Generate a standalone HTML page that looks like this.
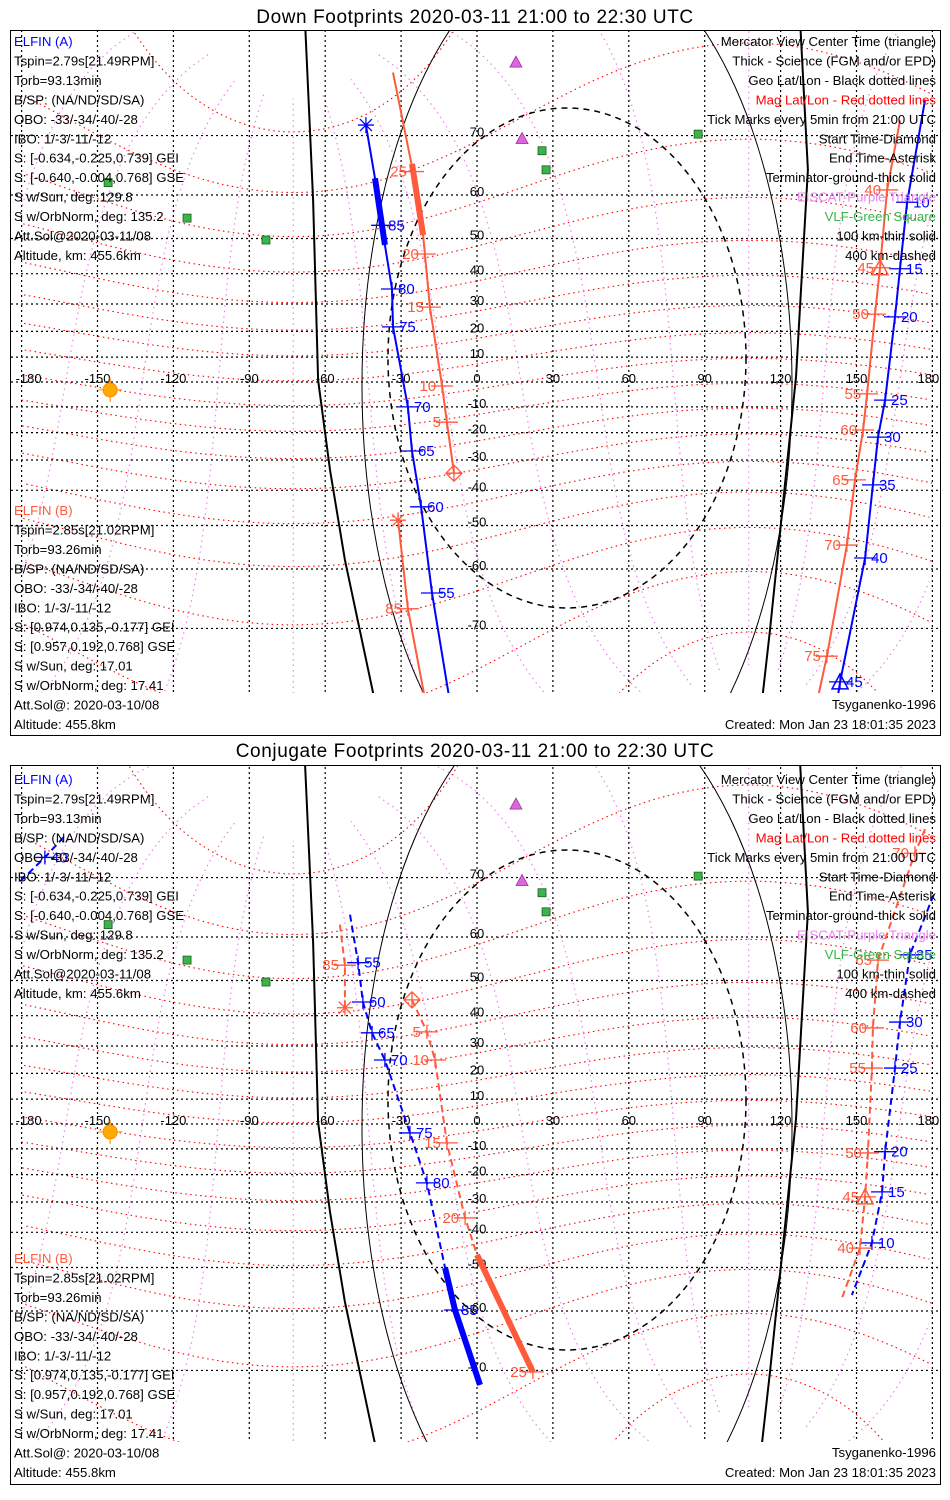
<!DOCTYPE html>
<html><head><meta charset="utf-8">
<style>
html,body{margin:0;padding:0;background:#fff;}
svg{display:block;}
text{font-family:"Liberation Sans",sans-serif;}
</style></head>
<body>
<svg id="chart" width="950" height="1500" viewBox="0 0 950 1500" xmlns="http://www.w3.org/2000/svg">
<defs>
<clipPath id="clip0"><rect x="11" y="31" width="929" height="662"/></clipPath>
<clipPath id="clip1"><rect x="11" y="766" width="929" height="676"/></clipPath>
</defs>
<rect x="0" y="0" width="950" height="1500" fill="#fff"/>
<g id="panels"></g>
</svg>
<script>
// ===== DATA (lon / lat in degrees) =====
const downA_lon = [-43.9,-40.3,-36.4,-33.6,-33.2,-27.3,-25.7,-22.1,-17.8,-10.7];
const downA_lat = [71.4,63.2,48.3,35.1,21.7,-10.0,-26.8,-44.9,-64.5,-78];
const downA_tickLabels = ['85','80','75','70','65','60','55'];
const downA_tickLon = [-37.5,-33.6,-33.2,-27.3,-25.7,-22.1,-17.8];
const downA_tickLat = [53.3,35.1,21.7,-10.0,-26.8,-44.9,-64.5];
const downA_sciLon = [-40.3,-36.4];
const downA_sciLat = [63.2,48.3];
const downA2_lon = [177.1,170.0,167.2,165.2,161.3,158.5,156.5,153.4,143.5,142.3];
const downA2_lat = [74.4,58.5,41.5,25.4,-7.3,-21.7,-38.3,-57.7,-76.2,-78];
const downA2_tickLabels = ['10','15','20','25','30','35','40','45'];
const downA2_tickLon = [170.0,167.2,165.2,161.3,158.5,156.5,153.4,143.5];
const downA2_tickLat = [58.5,41.5,25.4,-7.3,-21.7,-38.3,-57.7,-76.2];
const downB_lon = [-9.1,-11.9,-13.8,-18.6,-20.6,-21.3,-25.3,-33.2];
const downB_lat = [-34.5,-16.0,-1.6,28.9,45.8,50.9,64.4,77.1];
const downB_tickLabels = ['5','10','15','20','25'];
const downB_tickLon = [-11.9,-13.8,-18.6,-20.6,-25.3];
const downB_tickLat = [-16.0,-1.6,28.9,45.8,64.4];
const downB_sciLon = [-25.7,-21.3];
const downB_sciLat = [65.7,50.9];
const downB2_lon = [167.2,162.1,159.3,157.3,154.2,152.6,149.4,146.2,138.3,134.4];
const downB2_lat = [72.0,61.0,41.8,26.4,-4.8,-19.0,-36.7,-54.8,-73.5,-78];
const downB2_tickLabels = ['40','45','50','55','60','65','70','75'];
const downB2_tickLon = [162.1,159.3,157.3,154.2,152.6,149.4,146.2,138.3];
const downB2_tickLat = [61.0,41.8,26.4,-4.8,-19.0,-36.7,-54.8,-73.5];
const downB3_lon = [-19.4,-27.3,-31.2];
const downB3_lat = [-79,-67.1,-48.6];
const downB3_tickLabels = ['85'];
const downB3_tickLon = [-27.3];
const downB3_tickLat = [-67.1];
const conjA_lon = [-50.2,-47.0,-45.1,-41.5,-36.4,-26.5,-19.8,-12.6,-8.7,1.2];
const conjA_lat = [64.2,54.4,44.1,34.5,25.0,-3.6,-23.1,-50.1,-59.8,-71.9];
const conjA_tickLabels = ['55','60','65','70','75','80','85'];
const conjA_tickLon = [-47.0,-45.1,-41.5,-36.4,-26.5,-19.8,-8.7];
const conjA_tickLat = [54.4,44.1,34.5,25.0,-3.6,-23.1,-59.8];
const conjA_sciLon = [-12.6,-8.7,1.2];
const conjA_sciLat = [-50.1,-59.8,-71.9];
const conjA2_lon = [180.5,171.1,167.2,165.2,161.3,160.1,156.1,148.2];
const conjA2_lat = [67.5,56.2,38.0,22.0,-11.1,-26.4,-43.2,-56.6];
const conjA2_tickLabels = ['35','30','25','20','15','10'];
const conjA2_tickLon = [171.1,167.2,165.2,161.3,160.1,156.1];
const conjA2_tickLat = [56.2,38.0,22.0,-11.1,-26.4,-43.2];
const conjA3_lon = [-180.5,-170.8,-163];
const conjA3_lat = [69.5,72.6,75];
const conjA3_tickLabels = ['40'];
const conjA3_tickLon = [-170.8];
const conjA3_tickLat = [72.6];
const conjB_lon = [-25.7,-19.8,-16.6,-11.9,-4.7,0,22.1];
const conjB_lat = [44.7,34.8,25.0,-7.6,-35.4,-46.6,-70.2];
const conjB_tickLabels = ['5','10','15','20','25'];
const conjB_tickLon = [-19.8,-16.6,-11.9,-4.7,22.1];
const conjB_tickLat = [34.8,25.0,-7.6,-35.4,-70.2];
const conjB_sciLon = [0,22.1];
const conjB_sciLat = [-46.6,-70.2];
const conjB2_lon = [177.1,173.1,158.5,156.5,156.1,154.5,153.4,151.4,144.3];
const conjB2_lat = [75.7,73.1,55.0,36.1,22.0,-11.6,-28.2,-44.7,-57.2];
const conjB2_tickLabels = ['70','65','60','55','50','45','40'];
const conjB2_tickLon = [173.1,158.5,156.5,156.1,154.5,153.4,151.4];
const conjB2_tickLat = [73.1,55.0,36.1,22.0,-11.6,-28.2,-44.7];
const conjB3_lon = [-54.2,-52.2,-52.2];
const conjB3_lat = [62.4,53.8,42.4];
const conjB3_tickLabels = ['85'];
const conjB3_tickLon = [-52.2];
const conjB3_tickLat = [53.8];
const termL_lon = [-68.0,-64.8,-62.8,-58.1,-52.2,-40.3];
const termL_lat = [81,59.0,0.8,-33.4,-58.1,-78];
const termR_lon = [127.7,130.8,126.1,115.8,112.6];
const termR_lat = [81,64.7,2.0,-70.2,-78];
const eiscat_lon = [15.4,17.8];
const eiscat_lat = [78.0,69.6];
const vlf_lon = [-145.8,-114.6,-83.4,25.7,27.3,87.4];
const vlf_lat = [62.4,55.0,49.6,67.8,64.7,70.2];
const sun_lon = [-145];
const sun_lat = [-3.2];
const latTicks = [70,60,50,40,30,20,10,-10,-20,-30,-40,-50,-60,-70];
const lonTicks = [-180,-150,-120,-90,-60,-30,0,30,60,90,120,150,180];

const RED = '#ff5a3c', BLUE = '#0000ff';
const NS = 'http://www.w3.org/2000/svg';
function X(lon){ return 477 + lon*2.53; }
function Y(lat, off){ const r = lat*Math.PI/180; return 382 + off - 142*Math.log(Math.tan(Math.PI/4 + r/2)); }
function mk(tag, attrs, parent){ const e = document.createElementNS(NS, tag); for (const k in attrs) e.setAttribute(k, attrs[k]); parent.appendChild(e); return e; }

function magToGeo(m, phi){
  const th = 9.5*Math.PI/180, l0 = -72.6*Math.PI/180;
  const mr = m*Math.PI/180, pr = phi*Math.PI/180;
  let x = Math.cos(mr)*Math.cos(pr), y = Math.cos(mr)*Math.sin(pr), z = Math.sin(mr);
  const x1 = x*Math.cos(th) + z*Math.sin(th), z1 = -x*Math.sin(th) + z*Math.cos(th);
  const x2 = x1*Math.cos(l0) - y*Math.sin(l0), y2 = x1*Math.sin(l0) + y*Math.cos(l0);
  return [Math.atan2(y2, x2)*180/Math.PI, Math.asin(Math.max(-1, Math.min(1, z1)))*180/Math.PI];
}
function curvePath(pts, off){
  let d = '', prev = null;
  pts.forEach(p => {
    const x = X(p[0]), y = Y(Math.max(-85, Math.min(85, p[1])), off);
    if (prev === null || Math.abs(p[0]-prev) > 180) d += 'M' + x.toFixed(1) + ',' + y.toFixed(1);
    else d += 'L' + x.toFixed(1) + ',' + y.toFixed(1);
    prev = p[0];
  });
  return d;
}
function lineFrom(lons, lats, off){ return lons.map((l,i) => (i ? 'L' : 'M') + X(l).toFixed(1) + ',' + Y(lats[i], off).toFixed(1)).join(''); }

function drawTrack(g, lons, lats, color, dashed, off, name){
  const p = mk('path', {d: lineFrom(lons, lats, off), fill:'none', stroke: color, 'stroke-width': 2, 'stroke-dasharray': dashed ? '7,4' : 'none'}, g);
  
  
}
function drawSci(g, lons, lats, color, off, name){
  const p = mk('path', {d: lineFrom(lons, lats, off), fill:'none', stroke: color, 'stroke-width': 6}, g);
  
  
}
function drawTicks(g, labels, lons, lats, color, off, left, name){
  labels.forEach((lab, i) => {
    const x = X(lons[i]), y = Y(lats[i], off);
    const t = mk('g', {}, g);
    
    
    mk('line', {x1: x-11, y1: y, x2: x+11, y2: y, stroke: color, 'stroke-width': 1.3}, t);
    mk('line', {x1: x, y1: y-7, x2: x, y2: y+7, stroke: color, 'stroke-width': 1.3}, t);
    const tx = mk('text', {x: left ? x-6 : x+6, y: y+5, fill: color, 'font-size': 15, 'text-anchor': left ? 'end' : 'start'}, t);
    tx.textContent = lab;
  });
}
function triangle(g, lon, lat, color, off, name){
  const x = X(lon), y = Y(lat, off);
  const p = mk('path', {d: `M${x-8},${y+7}L${x},${y-8}L${x+8},${y+7}Z`, fill:'none', stroke: color, 'stroke-width': 1.5}, g);
  
  
}
function diamond(g, lon, lat, color, off, name){
  const x = X(lon), y = Y(lat, off);
  const p = mk('path', {d: `M${x},${y-8}L${x+8},${y}L${x},${y+8}L${x-8},${y}ZM${x-8},${y}L${x+8},${y}M${x},${y-8}L${x},${y+8}`, fill:'none', stroke: color, 'stroke-width': 1.3}, g);
  
  
}
function asterisk(g, lon, lat, color, off, name){
  const x = X(lon), y = Y(lat, off);
  const p = mk('path', {d: `M${x-8},${y}L${x+8},${y}M${x},${y-8}L${x},${y+8}M${x-6},${y-6}L${x+6},${y+6}M${x-6},${y+6}L${x+6},${y-6}`, fill:'none', stroke: color, 'stroke-width': 1.3}, g);
  
  
}

const leftA = ['Tspin=2.79s[21.49RPM]','Torb=93.13min','B/SP: (NA/ND/SD/SA)','OBO: -33/-34/-40/-28','IBO: 1/-3/-11/-12','S: [-0.634,-0.225,0.739] GEI','S: [-0.640,-0.004,0.768] GSE','S w/Sun, deg: 129.8','S w/OrbNorm, deg: 135.2','Att.Sol@2020-03-11/08','Altitude, km: 455.6km'];
const leftB = ['Tspin=2.85s[21.02RPM]','Torb=93.26min','B/SP: (NA/ND/SD/SA)','OBO: -33/-34/-40/-28','IBO: 1/-3/-11/-12','S: [0.974,0.135,-0.177] GEI','S: [0.957,0.192,0.768] GSE','S w/Sun, deg: 17.01','S w/OrbNorm, deg: 17.41','Att.Sol@: 2020-03-10/08','Altitude: 455.8km'];
const legend = [['Mercator View Center Time (triangle)','#000'],['Thick - Science (FGM and/or EPD)','#000'],['Geo Lat/Lon - Black dotted lines','#000'],['Mag Lat/Lon - Red dotted lines','#ff0000'],['Tick Marks every 5min from 21:00 UTC','#000'],['Start Time-Diamond','#000'],['End Time-Asterisk','#000'],['Terminator-ground-thick solid','#000'],['EISCAT-Purple Triangle','#ee82ee'],['VLF-Green Square','#3cb44b'],['100 km-thin solid','#000'],['400 km-dashed','#000']];

function panel(idx, title){
  const off = idx*742;
  const titleOff = idx*734, frameOff = idx*735, aOff = idx*738, bOff = idx*748;
  const root = document.getElementById('panels');
  const g = mk('g', {}, root);
  
  
  const tt = mk('text', {x: 475, y: 23+titleOff, 'font-size': 19, 'text-anchor':'middle', 'letter-spacing': 0.6, fill:'#000'}, g);
  
  
  tt.textContent = title;
  const map = mk('g', {'clip-path': `url(#clip${idx})`}, g);
  
  
  const mg = mk('g', {fill:'none', stroke:'#ff0000', 'stroke-width': 1.1, 'stroke-dasharray':'1.5,3.5'}, map);
  
  
  for (let m = -80; m <= 80; m += 10){
    const pts = []; for (let ph = 0; ph <= 360; ph += 2) pts.push(magToGeo(m, ph));
    pts.sort((a,b) => a[0]-b[0]);
    mk('path', {d: curvePath(pts, off)}, mg);
  }
  const vg = mk('g', {fill:'none', stroke:'#ee82ee', 'stroke-width': 1.2, 'stroke-dasharray':'1.5,4'}, map);
  
  
  for (let ph = 0; ph < 360; ph += 30){
    const pts = []; for (let m = -84; m <= 84; m += 2) pts.push(magToGeo(m, ph));
    mk('path', {d: curvePath(pts, off)}, vg);
  }
  const gg = mk('g', {stroke:'#000', 'stroke-width': 1.2, 'stroke-dasharray':'2,3'}, map);
  
  
  latTicks.concat([0]).forEach(l => mk('line', {x1: 11, x2: 940, y1: Y(l, off), y2: Y(l, off)}, gg));
  lonTicks.forEach(l => mk('line', {x1: X(l), x2: X(l), y1: 30+off-10, y2: 710+off}, gg));
  const lg = mk('g', {'font-size': 13, fill:'#000', 'text-anchor':'middle'}, map);
  
  
  latTicks.forEach(l => { const t = mk('text', {x: 477, y: Y(l, off)+1}, lg); t.textContent = l; });
  lonTicks.forEach(l => { const t = mk('text', {x: X(l) + (l===-180 ? 7 : l===180 ? -4 : 0), y: Y(0, off)+1}, lg); t.textContent = l; });
  const tg = mk('g', {fill:'none', stroke:'#000'}, map);
  
  
  mk('path', {d: lineFrom(termL_lon, termL_lat, off), 'stroke-width': 2}, tg);
  mk('path', {d: lineFrom(termR_lon, termR_lat, off), 'stroke-width': 2}, tg);
  const e1 = mk('ellipse', {cx: 577, cy: 385+off, rx: 215, ry: 440, fill:'none', stroke:'#000', 'stroke-width': 1}, map);
  
  
  const e2 = mk('ellipse', {cx: 567, cy: 358+off, rx: 179, ry: 250, fill:'none', stroke:'#000', 'stroke-width': 1.5, 'stroke-dasharray':'6,5'}, map);
  
  
  eiscat_lon.forEach((l, i) => {
    const x = X(l), y = Y(eiscat_lat[i], off);
    const p = mk('path', {d:`M${x-6},${y+5}L${x},${y-6}L${x+6},${y+5}Z`, fill:'#dd66dd', stroke:'#993399', 'stroke-width': 0.8}, map);
    
    
  });
  vlf_lon.forEach((l, i) => {
    const r = mk('rect', {x: X(l)-4, y: Y(vlf_lat[i], off)-4, width: 8, height: 8, fill:'#3cb44b', stroke:'#1a5f1a', 'stroke-width': 0.8}, map);
    
    
  });
  const sx = X(sun_lon[0]), sy = Y(sun_lat[0], off);
  const sg = mk('g', {}, map);
  
  
  mk('path', {d:`M${sx-12},${sy}L${sx+12},${sy}M${sx},${sy-12}L${sx},${sy+12}`, stroke:'#ff9900', 'stroke-width': 1.2}, sg);
  mk('circle', {cx: sx, cy: sy, r: 7, fill:'#ffaa00', stroke:'#ff8800'}, sg);

  if (idx === 0){
    drawTrack(map, downA_lon, downA_lat, BLUE, false, off, 'elfin-a-track');
    drawSci(map, downA_sciLon, downA_sciLat, BLUE, off, 'elfin-a-science');
    drawTicks(map, downA_tickLabels, downA_tickLon, downA_tickLat, BLUE, off, false, 'elfin-a');
    asterisk(map, downA_lon[0], downA_lat[0], BLUE, off, 'elfin-a-end');
    drawTrack(map, downA2_lon, downA2_lat, BLUE, false, off, 'elfin-a-track-east');
    drawTicks(map, downA2_tickLabels, downA2_tickLon, downA2_tickLat, BLUE, off, false, 'elfin-a');
    triangle(map, downA2_tickLon[7], downA2_tickLat[7], BLUE, off, 'elfin-a-center');
    drawTrack(map, downB_lon, downB_lat, RED, false, off, 'elfin-b-track');
    drawSci(map, downB_sciLon, downB_sciLat, RED, off, 'elfin-b-science');
    drawTicks(map, downB_tickLabels, downB_tickLon, downB_tickLat, RED, off, true, 'elfin-b');
    diamond(map, downB_lon[0], downB_lat[0], RED, off, 'elfin-b-start');
    drawTrack(map, downB2_lon, downB2_lat, RED, false, off, 'elfin-b-track-east');
    drawTicks(map, downB2_tickLabels, downB2_tickLon, downB2_tickLat, RED, off, true, 'elfin-b');
    triangle(map, downB2_tickLon[1], downB2_tickLat[1], RED, off, 'elfin-b-center');
    drawTrack(map, downB3_lon, downB3_lat, RED, false, off, 'elfin-b-track-end');
    drawTicks(map, downB3_tickLabels, downB3_tickLon, downB3_tickLat, RED, off, true, 'elfin-b');
    asterisk(map, downB3_lon[2], downB3_lat[2], RED, off, 'elfin-b-end');
  } else {
    drawTrack(map, conjA_lon, conjA_lat, BLUE, true, off, 'elfin-a-track');
    drawSci(map, conjA_sciLon, conjA_sciLat, BLUE, off, 'elfin-a-science');
    drawTicks(map, conjA_tickLabels, conjA_tickLon, conjA_tickLat, BLUE, off, false, 'elfin-a');
    drawTrack(map, conjA2_lon, conjA2_lat, BLUE, true, off, 'elfin-a-track-east');
    drawTicks(map, conjA2_tickLabels, conjA2_tickLon, conjA2_tickLat, BLUE, off, false, 'elfin-a');
    drawTrack(map, conjA3_lon, conjA3_lat, BLUE, true, off, 'elfin-a-track-west');
    drawTicks(map, conjA3_tickLabels, conjA3_tickLon, conjA3_tickLat, BLUE, off, false, 'elfin-a');
    drawTrack(map, conjB_lon, conjB_lat, RED, true, off, 'elfin-b-track');
    drawSci(map, conjB_sciLon, conjB_sciLat, RED, off, 'elfin-b-science');
    drawTicks(map, conjB_tickLabels, conjB_tickLon, conjB_tickLat, RED, off, true, 'elfin-b');
    diamond(map, conjB_lon[0], conjB_lat[0], RED, off, 'elfin-b-start');
    drawTrack(map, conjB2_lon, conjB2_lat, RED, true, off, 'elfin-b-track-east');
    drawTicks(map, conjB2_tickLabels, conjB2_tickLon, conjB2_tickLat, RED, off, true, 'elfin-b');
    triangle(map, conjB2_tickLon[5], conjB2_tickLat[5], RED, off, 'elfin-b-center');
    drawTrack(map, conjB3_lon, conjB3_lat, RED, true, off, 'elfin-b-track-end');
    drawTicks(map, conjB3_tickLabels, conjB3_tickLon, conjB3_tickLat, RED, off, true, 'elfin-b');
    asterisk(map, conjB3_lon[2], conjB3_lat[2], RED, off, 'elfin-b-end');
  }
  const fr = mk('rect', {x: 10.5, y: 30.5+frameOff, width: 930, height: idx ? 719 : 705, fill:'none', stroke:'#000', 'stroke-width': 1}, g);
  
  
  const tb = mk('g', {'font-size': 13.2, fill:'#000'}, g);
  
  
  let t = mk('text', {x: 14, y: 46+aOff, fill: BLUE}, tb); t.textContent = 'ELFIN (A)';
  leftA.forEach((s, i) => { const e = mk('text', {x: 14, y: 46+aOff+19.45*(i+1)}, tb); e.textContent = s; });
  t = mk('text', {x: 14, y: 515+bOff, fill: RED}, tb); t.textContent = 'ELFIN (B)';
  leftB.forEach((s, i) => { const e = mk('text', {x: 14, y: 515+bOff+19.45*(i+1)}, tb); e.textContent = s; });
  legend.forEach((s, i) => { const e = mk('text', {x: 936, y: 46+aOff+19.45*i, 'text-anchor':'end', fill: s[1]}, tb); e.textContent = s[0]; });
  t = mk('text', {x: 936, y: 709+bOff, 'text-anchor':'end'}, tb); t.textContent = 'Tsyganenko-1996';
  t = mk('text', {x: 936, y: 729+bOff, 'text-anchor':'end'}, tb); t.textContent = 'Created: Mon Jan 23 18:01:35 2023';
}
panel(0, 'Down Footprints 2020-03-11 21:00 to 22:30 UTC');
panel(1, 'Conjugate Footprints 2020-03-11 21:00 to 22:30 UTC');
</script>
</body></html>
